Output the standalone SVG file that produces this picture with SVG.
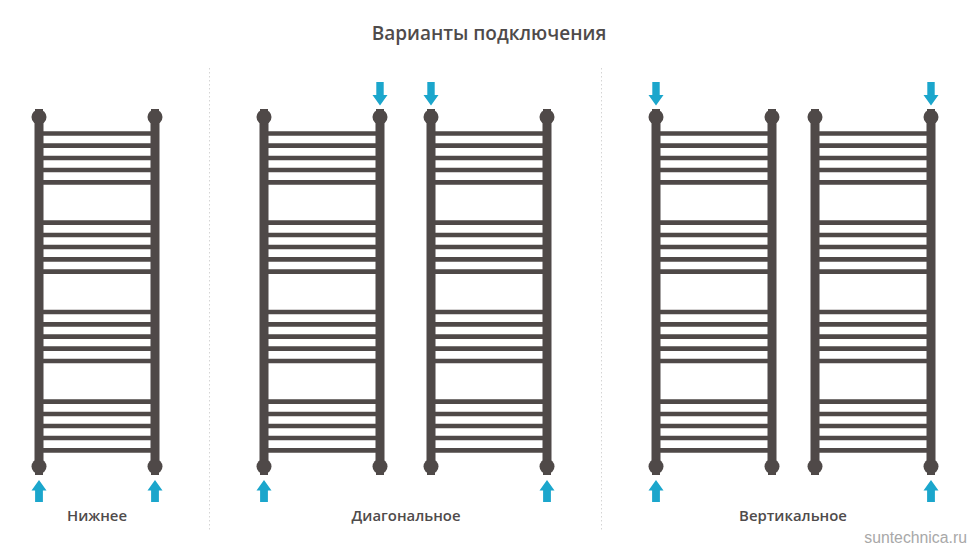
<svg xmlns="http://www.w3.org/2000/svg" width="970" height="549" viewBox="0 0 970 549">
<style>
.t{font-family:"Open Sans","Noto Sans",sans-serif;fill:#4f4b4b;text-anchor:middle}
.h{font-size:19px;font-weight:600}
.l{font-size:14.900px;font-weight:600}
.d{stroke:#d4d4d4;stroke-width:1;stroke-dasharray:1.500 2.500;fill:none}
.c{fill:#4f4948}
.b{stroke:#4f4948;stroke-width:4.700;fill:none}
.r{stroke:#4f4948;stroke-width:9;fill:none}
.a{fill:#1ba6cc}
.w{font-family:"Liberation Sans",Arial,sans-serif;font-size:15.800px;fill:#a8a8a8;text-anchor:end}
</style>
<defs>
<g id="rad">
<path class="r" d="M39 117V466M155 117V466"/>
<path class="b" d="M43 133.500H151M43 145.700H151M43 158H151M43 170H151M43 182.300H151M43 222.700H151M43 235H151M43 247H151M43 259.300H151M43 271.700H151M43 312H151M43 324.300H151M43 336.700H151M43 348.700H151M43 361H151M43 401.700H151M43 414H151M43 426H151M43 438H151M43 450.300H151"/>
<circle class="c" cx="39" cy="117" r="7.500"/><circle class="c" cx="155" cy="117" r="7.500"/>
<circle class="c" cx="39" cy="466.500" r="7.500"/><circle class="c" cx="155" cy="466.500" r="7.500"/>
<path class="c" d="M35 109h8v6h-8zM151 109h8v6h-8zM35 469h8v6h-8zM151 469h8v6h-8z"/>
</g>
<path id="up" class="a" d="M0-11 7.500-.5H3.900V11H-3.900V-.5H-7.500Z"/>
<path id="dn" class="a" d="M0 12 7.500 1.500H3.700V-11.500H-3.700V1.500H-7.500Z"/>
</defs>
<text class="t h" x="489" y="40">Варианты подключения</text>
<g id="dividers"><path class="d" d="M209.500 68V530M601.500 68V530"/></g>
<g id="radiator-1"><use href="#rad"/></g>
<g id="radiator-2"><use href="#rad" x="225"/></g>
<g id="radiator-3"><use href="#rad" x="392"/></g>
<g id="radiator-4"><use href="#rad" x="617"/></g>
<g id="radiator-5"><use href="#rad" x="776"/></g>
<g id="connectors">
<use href="#up" x="39" y="491"/><use href="#up" x="155" y="491"/>
<use href="#up" x="264" y="491"/><use href="#dn" x="380" y="93.500"/>
<use href="#dn" x="431" y="93.500"/><use href="#up" x="547" y="491"/>
<use href="#dn" x="656" y="93.500"/><use href="#up" x="656" y="491"/>
<use href="#dn" x="931" y="93.500"/><use href="#up" x="931" y="491"/>
</g>
<text class="t l" x="97" y="521">Нижнее</text>
<text class="t l" x="406" y="521">Диагональное</text>
<text class="t l" x="793" y="521">Вертикальное</text>
<text class="w" x="967" y="542.500">suntechnica.ru</text>
</svg>
